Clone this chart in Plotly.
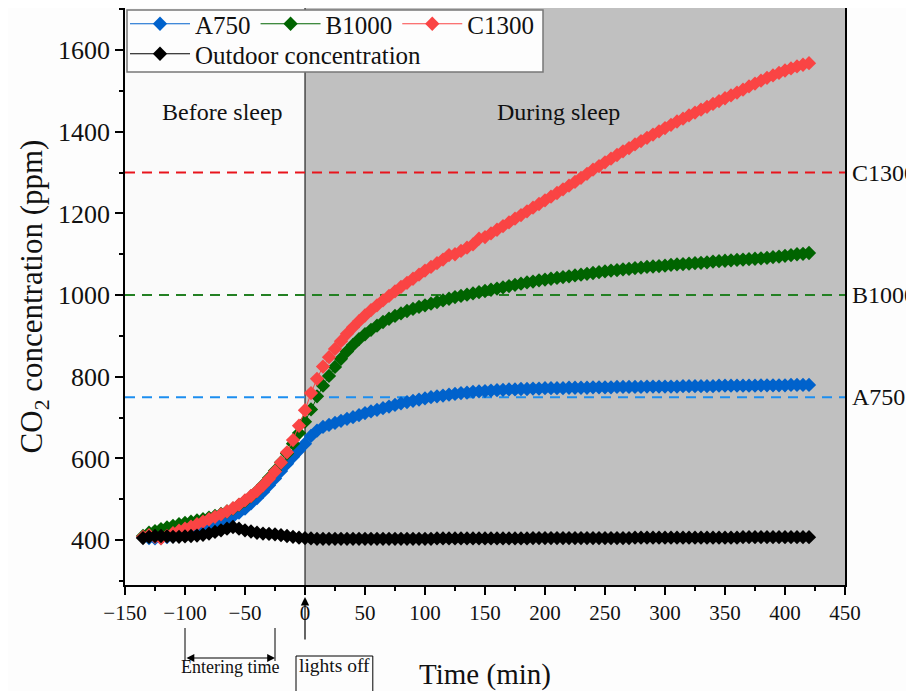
import plotly.graph_objects as go

# ---------------- data ----------------
time_min = list(range(-135, 425, 5))

a750 = [407, 405, 404, 405, 407, 409, 412, 414, 417, 421, 425, 430, 436, 443, 450, 458,
        467, 477, 490, 503, 518, 534, 551, 569, 587, 604, 620, 636,
        655, 668, 677, 682, 687, 692, 697, 701, 706, 711, 715, 719, 723, 727, 731, 735,
        738, 741, 744, 747, 750, 752, 754, 756, 758, 760, 761, 763, 764, 765, 766, 767,
        768, 769, 769, 770, 770, 771, 771, 772, 772, 772, 772, 773, 773, 773, 773, 774,
        774, 774, 774, 775, 775, 775, 775, 775, 776, 776, 776, 776, 776, 776, 777, 777,
        777, 777, 777, 777, 778, 778, 778, 778, 778, 778, 778, 779, 779, 779, 779, 779,
        780, 780, 780, 780]

b1000 = [410, 418, 422, 427, 431, 435, 439, 442, 445, 448, 451, 455, 459, 464, 470, 477,
         486, 496, 507, 520, 535, 552, 570, 590, 612, 636, 662, 690,
         720, 752, 778, 802, 824, 844, 862, 878, 892, 904, 915, 925, 934, 942, 949, 955,
         961, 966, 971, 975, 979, 983, 987, 991, 995, 998, 1001, 1004, 1007, 1010, 1013, 1016,
         1019, 1022, 1025, 1028, 1031, 1033, 1036, 1038, 1040, 1042, 1044, 1046, 1048, 1050, 1052, 1054,
         1056, 1058, 1060, 1061, 1063, 1064, 1066, 1067, 1069, 1070, 1071, 1072, 1074, 1075, 1076, 1077,
         1078, 1079, 1080, 1082, 1083, 1084, 1085, 1086, 1087, 1088, 1089, 1090, 1091, 1093, 1094, 1096,
         1098, 1100, 1101, 1103]

c1300 = [408, 412, 408, 404, 410, 417, 423, 428, 433, 439, 445, 451, 457, 463, 470, 478,
         487, 497, 508, 520, 534, 550, 568, 590, 615, 645, 680, 718,
         760, 795, 825, 848, 868, 887, 905, 921, 936, 950, 963, 975, 987, 998, 1009, 1020,
         1030, 1040, 1050, 1060, 1069, 1078, 1087, 1098, 1100, 1108, 1116, 1124, 1138, 1142, 1151, 1160,
         1169, 1178, 1187, 1196, 1205, 1214, 1223, 1232, 1241, 1250, 1259, 1268, 1277, 1287, 1297, 1307,
         1316, 1325, 1334, 1343, 1352, 1360, 1369, 1377, 1385, 1393, 1401, 1409, 1417, 1425, 1432, 1440,
         1447, 1454, 1461, 1468, 1475, 1482, 1489, 1496, 1503, 1511, 1518, 1525, 1532, 1538, 1544, 1550,
         1555, 1560, 1564, 1568]

outdoor = [405, 408, 410, 410, 409, 408, 408, 409, 410, 411, 413, 416, 420, 424, 428, 432,
           428, 424, 421, 418, 416, 415, 414, 412, 410, 408, 406, 405,
           404, 403, 403, 403, 403, 403, 403, 403, 403, 403, 403, 403, 403, 403, 403, 403,
           403, 403, 403, 403, 403, 404, 404, 404, 404, 404, 404, 404, 404, 404, 404, 404,
           404, 404, 404, 404, 404, 405, 405, 405, 405, 405, 405, 405, 405, 405, 405, 405,
           405, 405, 405, 405, 405, 405, 406, 406, 406, 406, 406, 406, 406, 406, 406, 406,
           406, 406, 406, 406, 406, 406, 406, 406, 407, 407, 407, 407, 407, 407, 407, 407,
           407, 407, 407, 407]

series_names = ["A750", "B1000", "C1300", "Outdoor concentration"]
threshold_values = [750, 1000, 1300]
threshold_labels = ["A750", "B1000", "C1300"]
x_ticks = [-150, -100, -50, 0, 50, 100, 150, 200, 250, 300, 350, 400, 450]
y_ticks = [400, 600, 800, 1000, 1200, 1400, 1600]

# ---------------- style ----------------
FONT = "Liberation Serif, Times New Roman, serif"
TXT = "#111111"
colors = ["#0062cc", "#006400", "#fa4444", "#000000"]
dash_colors = ["#1c8ef0", "#238023", "#e8141c"]

OFF = 8                      # page body margin of the html page
W, H = 906, 683
L, R, T, B = 117, 69, 0, 106
PW, PH = W - L - R, H - T - B


def py(pix):
    """page pixel row -> paper y"""
    return (H - B - (pix - OFF)) / PH


def px(pix):
    """page pixel column -> paper x"""
    return (pix - OFF - L) / PW


fig = go.Figure()

for name, vals, col, leg in zip(series_names, [a750, b1000, c1300, outdoor], colors,
                                ["legend", "legend", "legend", "legend2"]):
    fig.add_trace(go.Scatter(
        x=time_min, y=vals, name=name, mode="lines+markers",
        line=dict(color=col, width=1),
        marker=dict(symbol="diamond", size=11, color=col, line=dict(width=0)),
        legend=leg,
    ))

# shaded "during sleep" region
fig.add_shape(type="rect", xref="x", yref="paper", x0=0, x1=450, y0=0, y1=1,
              fillcolor="#c0c0c0", line=dict(width=0), layer="below")
fig.add_shape(type="line", xref="x", yref="paper", x0=0, x1=0, y0=0, y1=1,
              line=dict(color="#000000", width=1), layer="below")

# threshold lines
for v, c, lab in zip(threshold_values, dash_colors, threshold_labels):
    fig.add_shape(type="line", xref="paper", yref="y", x0=0, x1=1, y0=v, y1=v,
                  line=dict(color=c, width=2, dash="10px,7px"), layer="below")
    fig.add_annotation(text=lab, xref="paper", yref="y", x=1, y=v, xanchor="left",
                       xshift=5, showarrow=False, font=dict(family=FONT, size=24, color=TXT))

fig.add_annotation(text="Before sleep", xref="x", yref="y", x=-69, y=1448, showarrow=False,
                   font=dict(family=FONT, size=24, color=TXT))
fig.add_annotation(text="During sleep", xref="x", yref="y", x=211, y=1448, showarrow=False,
                   font=dict(family=FONT, size=24, color=TXT))

# legend box
fig.add_shape(type="rect", xref="paper", yref="paper", x0=px(127), x1=px(543),
              y0=py(72), y1=py(10), fillcolor="#fdfdfd",
              line=dict(color="#777777", width=1.5), layer="above")

# annotations below the axis: entering time
for t in [-100, -25]:
    fig.add_shape(type="line", xref="x", yref="paper", x0=t, x1=t, y0=py(628), y1=py(661),
                  line=dict(color="#000", width=1))
fig.add_annotation(x=-25, y=py(658), xref="x", yref="paper", ax=-100, ay=0, axref="x",
                   ayref="pixel", showarrow=True, arrowhead=2, arrowside="end+start",
                   arrowsize=1.3, arrowwidth=1.2, arrowcolor="#000", text="")
fig.add_annotation(text="Entering time", xref="x", yref="paper", x=-62.5, y=py(679),
                   showarrow=False, font=dict(family=FONT, size=18, color=TXT))

# lights off
fig.add_annotation(x=0, y=py(597), xref="x", yref="paper", ax=0, ay=44, showarrow=True,
                   arrowhead=2, arrowsize=1.4, arrowwidth=1.2, arrowcolor="#000", text="")
fig.add_shape(type="rect", xref="x", yref="paper", x0=-7.5, x1=56.5, y0=py(705), y1=py(656),
              line=dict(color="#000", width=1), fillcolor="rgba(0,0,0,0)")
fig.add_annotation(text="lights off", xref="x", yref="paper", x=24.5, y=py(678),
                   showarrow=False, font=dict(family=FONT, size=19.5, color=TXT))

axis_common = dict(showline=True, linecolor="#000", linewidth=1.8, mirror=True,
                   showgrid=False, zeroline=False, ticks="outside", tickcolor="#000",
                   tickwidth=1.5, ticklen=8)

fig.update_xaxes(range=[-150, 450], tickvals=x_ticks, **axis_common,
                 tickfont=dict(family=FONT, size=21, color=TXT),
                 minor=dict(ticks="outside", dtick=25, tick0=-150, ticklen=4, tickwidth=1.5,
                            tickcolor="#000"),
                 title=dict(text="Time (min)", font=dict(family=FONT, size=29, color=TXT),
                            standoff=40))
fig.update_yaxes(range=[290, 1703], tickvals=y_ticks, **axis_common,
                 tickfont=dict(family=FONT, size=26, color=TXT),
                 minor=dict(ticks="outside", dtick=100, tick0=300, ticklen=4, tickwidth=1.5,
                            tickcolor="#000"),
                 title=dict(text="CO<sub>2</sub> concentration (ppm)",
                            font=dict(family=FONT, size=31, color=TXT), standoff=6))

fig.update_layout(
    width=W, height=H,
    margin=dict(l=L, r=R, t=T, b=B, autoexpand=False),
    paper_bgcolor="#fdfdfd", plot_bgcolor="#fafafa",
    showlegend=True,
    legend=dict(orientation="h", x=px(125), y=py(1), xanchor="left", yanchor="top",
                bgcolor="rgba(0,0,0,0)", borderwidth=0, itemwidth=60,
                font=dict(family=FONT, size=25, color=TXT), tracegroupgap=0),
    legend2=dict(orientation="h", x=px(125), y=py(31), xanchor="left", yanchor="top",
                 bgcolor="rgba(0,0,0,0)", borderwidth=0, itemwidth=60,
                 font=dict(family=FONT, size=25, color=TXT)),
)

fig.write_html("out.html")
